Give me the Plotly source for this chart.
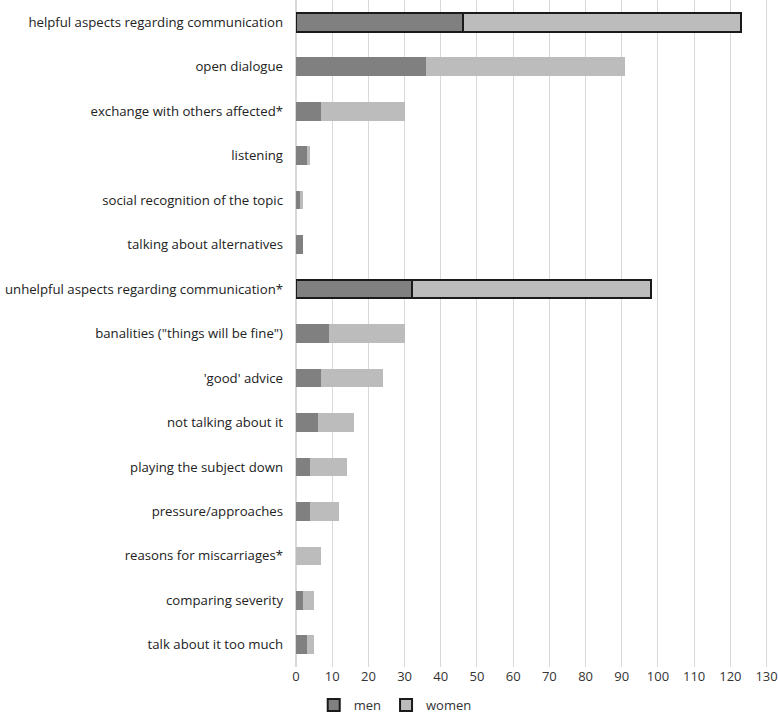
import plotly.graph_objects as go

categories = [
    "helpful aspects regarding communication",
    "open dialogue",
    "exchange with others affected*",
    "listening",
    "social recognition of the topic",
    "talking about alternatives",
    "unhelpful aspects regarding communication*",
    'banalities ("things will be fine")',
    "'good' advice",
    "not talking about it",
    "playing the subject down",
    "pressure/approaches",
    "reasons for miscarriages*",
    "comparing severity",
    "talk about it too much",
]
men = [46, 36, 7, 3, 1, 2, 32, 9, 7, 6, 4, 4, 0, 2, 3]
women = [77, 55, 23, 1, 1, 0, 66, 21, 17, 10, 10, 8, 7, 3, 2]
summary_rows = ["helpful aspects regarding communication",
                "unhelpful aspects regarding communication*"]
x_ticks = list(range(0, 131, 10))

line_w = [2 if c in summary_rows else 0 for c in categories]
line_c = ["#1a1a1a"] * len(categories)

fig = go.Figure()
fig.add_trace(go.Bar(y=categories, x=men, name="men", orientation="h",
                     marker=dict(color="#808080", line=dict(width=line_w, color=line_c))))
fig.add_trace(go.Bar(y=categories, x=women, name="women", orientation="h",
                     marker=dict(color="#bcbcbc", line=dict(width=line_w, color=line_c))))

fig.update_layout(
    barmode="stack",
    bargap=0.58,
    width=778, height=720,
    margin=dict(l=296, r=10, t=0, b=53, autoexpand=False),
    paper_bgcolor="white", plot_bgcolor="white",
    font=dict(family="Open Sans, Liberation Sans, sans-serif", size=13, color="#222222"),
    legend=dict(orientation="h", xref="container", yref="container",
                x=0.508, y=-0.004, xanchor="center", yanchor="bottom",
                font=dict(size=13, color="#333333"), traceorder="normal",
                itemwidth=30),
    showlegend=True,
)
fig.update_xaxes(range=[0, 130.4], tickvals=x_ticks, showgrid=True, gridcolor="#d9d9d9",
                 gridwidth=1, zeroline=True, zerolinecolor="#d9d9d9", showline=False,
                 tickfont=dict(size=13, color="#333333"), fixedrange=True,
                 automargin=False)
fig.update_yaxes(autorange="reversed", showgrid=False, ticklabelstandoff=12,
                 tickfont=dict(size=13.2, color="#222222"), fixedrange=True,
                 automargin=False)

fig.write_html("out.html", config={"displayModeBar": False},
               post_script="document.body.style.margin='0';document.body.style.padding='0';")
